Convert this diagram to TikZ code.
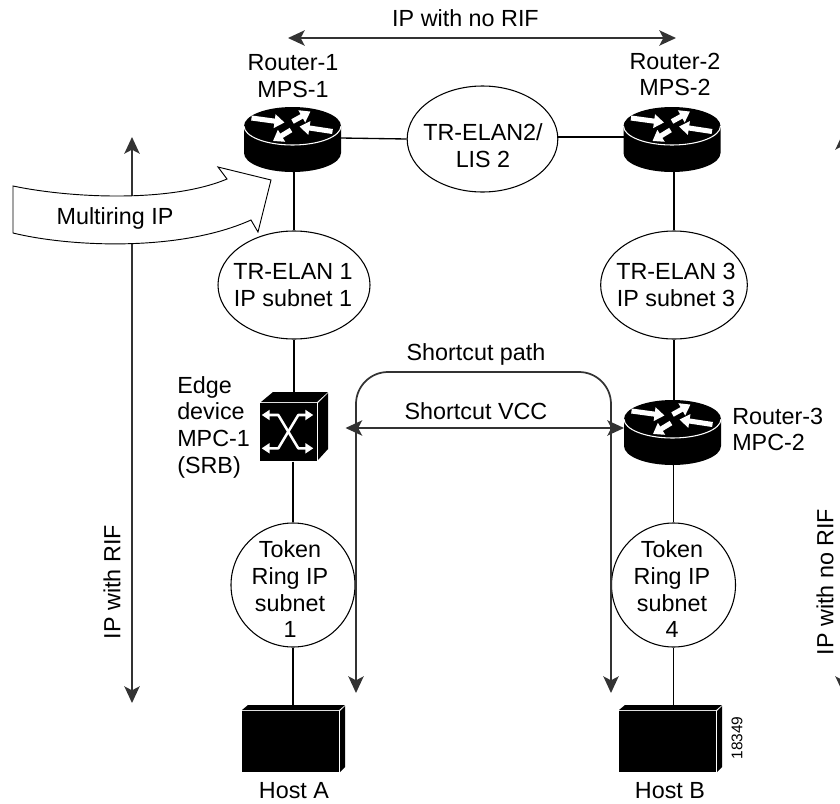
\documentclass[tikz,border=0pt]{standalone}
\usepackage{fontspec}
\setmainfont{Liberation Sans}
\usetikzlibrary{arrows.meta,shapes.geometric}
\newcommand{\wa}[2]{\draw[white,line width=3.8pt,-{Triangle[length=7.5pt,width=10pt]}] (#1) -- (#2);}
\newcommand{\routerbody}[1]{%
  \begin{scope}[shift={(#1)}]
    \fill[black] (-48.5,0) -- (-48.5,27) arc[start angle=180,end angle=360,x radius=48.5*0.75pt,y radius=19*0.75pt] -- (48.5,0) arc[start angle=0,end angle=180,x radius=48.5*0.75pt,y radius=19*0.75pt] -- cycle;
    \draw[white,line width=0.8pt] (-48.5,0) arc[start angle=180,end angle=360,x radius=48.5*0.75pt,y radius=19*0.75pt];
    \wa{-41,-8}{-8,-3.5}
    \wa{0,-4.5}{18,-14.5}
    \wa{40,5.5}{7,0.5}
    \wa{-1.5,4}{-19.5,15}
  \end{scope}}
\newcommand{\hostbody}[1]{%
  \begin{scope}[shift={(#1)}]
    \fill[black] (0,0) rectangle (97,61);
    \fill[black] (6,-6) -- (103,-6) -- (97,-1) -- (0,-1) -- cycle;
    \fill[black] (98,0) -- (103,-5) -- (103,56) -- (98,61) -- cycle;
  \end{scope}}
\tikzset{
  x=0.75pt,y=-0.75pt,
  lbl/.style={font=\fontsize{17.5pt}{20pt}\selectfont,align=center,inner sep=0pt},
  conn/.style={black,line width=1pt},
  big/.style={black!80,line width=1.3pt},
  tipb/.style={{Stealth[length=12.5pt,width=11.5pt,inset=3pt]}-{Stealth[length=12.5pt,width=11.5pt,inset=3pt]}},
  both/.style={big,tipb},
  elli/.style={draw=black,fill=white,ellipse,line width=0.8pt,inner sep=0pt},
  dev/.style={inner sep=0pt,outer sep=0pt},
}
\begin{document}
\begin{tikzpicture}
\useasboundingbox (0,0) rectangle (840,804);
\clip (0,0) rectangle (840,804);
% device anchors
\node[dev,minimum width=72.75pt,minimum height=48pt] (r1) at (292.5,139) {};
\node[dev,minimum width=72.75pt,minimum height=48pt] (r2) at (672,137) {};
\node[dev,minimum width=72.75pt,minimum height=48pt] (r3) at (672.5,432.5) {};
\node[dev,minimum width=51pt,minimum height=52.5pt] (sw) at (294,426.5) {};
\node[dev,minimum width=77pt,minimum height=50pt] (ha) at (293.5,738.5) {};
\node[dev,minimum width=77pt,minimum height=50pt] (hb) at (670.5,738.5) {};
% ellipses
\node[elli,minimum width=113pt,minimum height=79.5pt] (e2) at (482.5,139) {};
\node[elli,minimum width=114pt,minimum height=81pt] (e1) at (294,285) {};
\node[elli,minimum width=110pt,minimum height=81pt] (e3) at (674,285) {};
\node[elli,minimum width=93pt,minimum height=93pt] (t1) at (293,585) {};
\node[elli,minimum width=93pt,minimum height=93pt] (t4) at (673.5,585) {};
% connectors
\draw[conn] (r1.east) ++(0,-1) -- (e2.180);
\draw[conn] (e2.0) ++(0,-2) -- (r2.west);
\draw[conn] (e1.north |- r1.south) -- (e1.north);
\draw[conn] (e3.north |- r2.south) -- (e3.north);
\draw[conn] (e1.south) -- (sw.north -| e1.south);
\draw[conn] (e3.south) -- (r3.north -| e3.south);
\draw[conn] (sw.south -| t1.north) -- (t1.north);
\draw[conn] (r3.south -| t4.north) -- (t4.north);
\draw[conn] (t1.south) -- (ha.north -| t1.south);
\draw[conn] (t4.south) -- (hb.north -| t4.south);
% free arrows
\coordinate (topL) at (288,38);
\coordinate (topR) at (676,38);
\draw[both] (topL) -- (topR);
\coordinate (lT) at (132,137);
\coordinate (lB) at (132,703);
\draw[both] (lT) -- (lB);
\coordinate (rT) at (843,133);
\coordinate (rB) at (843,693);
\draw[both] (rT) -- (rB);
\coordinate (spL) at (356,693);
\coordinate (spR) at (611,693);
\draw[big,tipb,rounded corners=24pt] (spL) -- (356,372) -- (611,372) -- (spR);
\coordinate (vL) at (345.5,428);
\coordinate (vR) at (624,428);
\draw[both] (vL) -- (vR);
% devices
\routerbody{292.5,126}
\routerbody{672,126}
\routerbody{672.5,419}
\hostbody{242,711}
\hostbody{619,711}
% switch
\fill[black] (260,403) rectangle (317,461);
\fill[black] (261,402) -- (273,392) -- (328,392) -- (317,402) -- cycle;
\fill[black] (318,403) -- (328,393) -- (328,449) -- (318,460) -- cycle;
\draw[white,line width=1.9pt,{Triangle[length=6pt,width=7.5pt]}-{Triangle[length=6pt,width=7.5pt]},line join=round] (261.7,415) -- (278.3,415) -- (298.3,448.3) -- (313.3,448.3);
\draw[white,line width=1.9pt,{Triangle[length=6pt,width=7.5pt]}-{Triangle[length=6pt,width=7.5pt]},line join=round] (313.3,415) -- (298.3,415) -- (278.3,448.3) -- (261.7,448.3);
% multiring arrow
\path[draw=black,fill=white,line width=0.7pt,line join=miter]
  (13,186) .. controls (70,198) and (170,203) .. (227,179)
  -- (218,167) -- (271,180) -- (258,232) -- (251,220)
  .. controls (180,252) and (70,247) .. (13,233) -- cycle;
% labels
\node[lbl] (tIPtop) at (465.5,18) {IP with no RIF};
\node[lbl] (tR1) at (293,76) {Router-1\\MPS-1};
\node[lbl] (tR2) at (675,74.5) {Router-2\\MPS-2};
\node[lbl] (tE2) at (483,145.5) {TR-ELAN2/\\LIS 2};
\node[lbl] (tE1) at (293,285) {TR-ELAN 1\\IP subnet 1};
\node[lbl] (tE3) at (676,285) {TR-ELAN 3\\IP subnet 3};
\node[lbl] (tMR) at (115,218) {Multiring IP};
\node[lbl] (tSP) at (476,354) {Shortcut path};
\node[lbl] (tSV) at (476,411) {Shortcut VCC};
\node[lbl,anchor=west,align=left] (tEdge) at (177,427) {Edge\\device\\MPC-1\\(SRB)};
\node[lbl,anchor=west,align=left] (tR3) at (732,429.5) {Router-3\\MPC-2};
\node[lbl] (tT1) at (290,589.5) {Token\\Ring IP\\subnet\\1};
\node[lbl] (tT4) at (672,589.5) {Token\\Ring IP\\subnet\\4};
\node[lbl] (tHA) at (294,791) {Host A};
\node[lbl] (tHB) at (670,791) {Host B};
\node[lbl,rotate=90] (tRIF) at (112,582) {IP with RIF};
\node[lbl,rotate=90] (tNoRIF) at (825,582) {IP with no RIF};
\node[inner sep=0pt,rotate=90,font=\fontsize{11.6pt}{13pt}\selectfont] (tNum) at (737,738) {18349};
\end{tikzpicture}
\end{document}
